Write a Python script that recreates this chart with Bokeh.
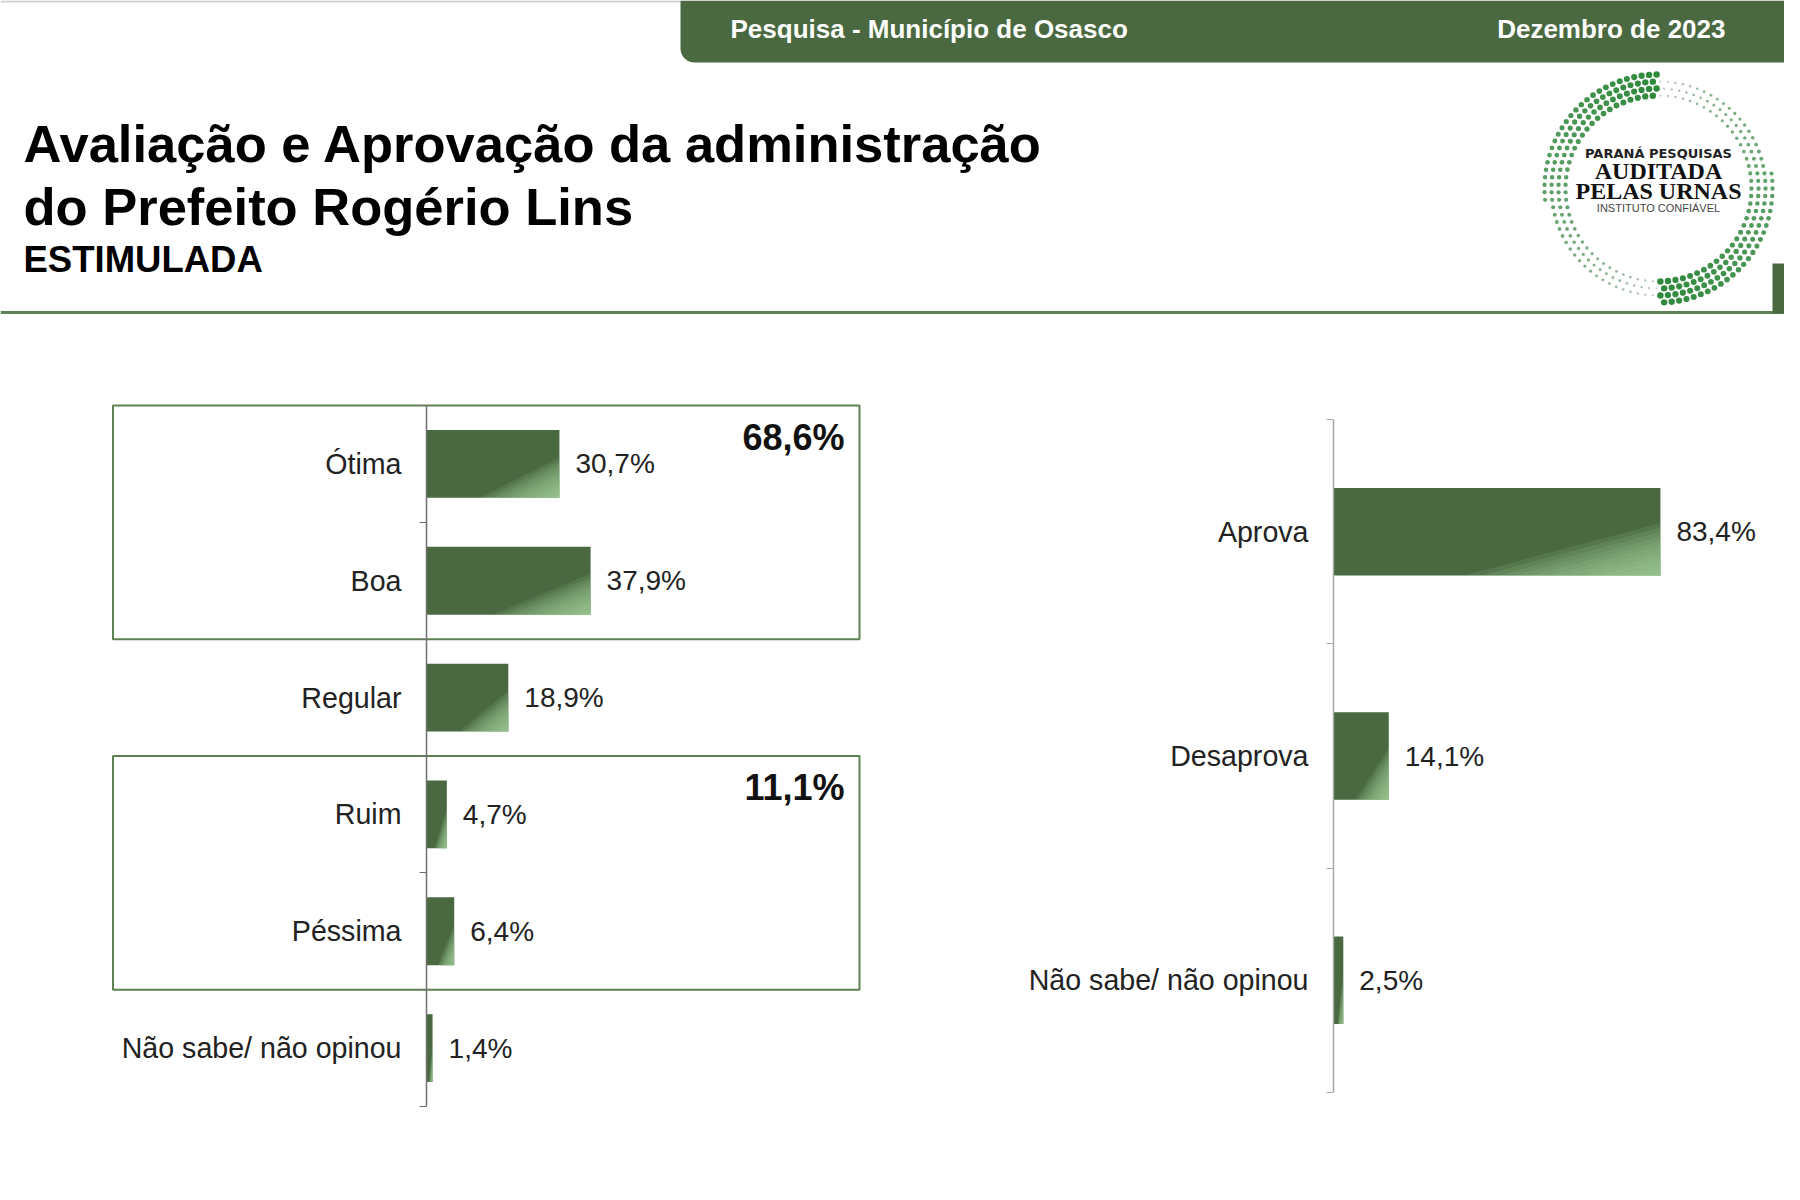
import numpy as np
from bokeh.plotting import figure
from bokeh.models import Range1d, LinearAxis, FixedTicker, Spacer
from bokeh.layouts import column, row
from bokeh.core.properties import value
from bokeh.embed import file_html
from bokeh.resources import INLINE

# ---------------- data ----------------
eval_categories = ["Ótima", "Boa", "Regular", "Ruim", "Péssima", "Não sabe/ não opinou"]
eval_values = [30.7, 37.9, 18.9, 4.7, 6.4, 1.4]
eval_groups = [[0, 1], [3, 4]]          # grouped categories (positive / negative)

appr_categories = ["Aprova", "Desaprova", "Não sabe/ não opinou"]
appr_values = [83.4, 14.1, 2.5]

header_left = "Pesquisa - Município de Osasco"
header_right = "Dezembro de 2023"
title_lines = ["Avaliação e Aprovação da administração", "do Prefeito Rogério Lins"]
subtitle = "ESTIMULADA"
logo_lines = ["PARANÁ PESQUISAS", "AUDITADA", "PELAS URNAS", "INSTITUTO CONFIÁVEL"]

# ---------------- style ----------------
FONT = "Liberation Sans"
DARK = "#4a6941"
LIGHT = "#aad7a4"
BOXC = "#5e8151"
TXT = "#222222"


def fmt(v):
    return f"{v:.1f}".replace(".", ",") + "%"


def bar_chart(cats, vals, width, height, px_per_unit, zero_px, top_px, band_px,
              bar_frac, axis_color, groups=None, box_left_px=0, box_right=100):
    n = len(cats)
    x0 = -zero_px / px_per_unit
    x1 = (width - zero_px) / px_per_unit
    y_top = -0.5 - top_px / band_px
    y_bot = n - 0.5 + (height - top_px - n * band_px) / band_px
    p = figure(width=width, height=height, x_range=Range1d(x0, x1),
               y_range=Range1d(y_bot, y_top), x_axis_type=None, y_axis_type=None,
               output_backend="svg", toolbar_location=None, min_border=0,
               outline_line_color=None, background_fill_color="white",
               border_fill_color="white")
    pos = list(range(n))
    ax = LinearAxis(fixed_location=0, bounds=(-0.5, n - 0.5),
                    ticker=FixedTicker(ticks=pos, minor_ticks=[i - 0.5 for i in range(n + 1)]),
                    major_label_overrides={i: c for i, c in enumerate(cats)},
                    major_tick_out=0, major_tick_in=0, major_tick_line_color=None,
                    minor_tick_out=7, minor_tick_in=0, minor_tick_line_color=axis_color,
                    axis_line_color=axis_color, axis_line_width=1.5,
                    major_label_standoff=18, major_label_text_font=FONT,
                    major_label_text_font_size="28.6px", major_label_text_color=TXT)
    p.add_layout(ax, "left")

    # group boxes
    if groups:
        for g in groups:
            top = min(g) - 0.5
            bot = max(g) + 0.5
            p.quad(left=x0 + box_left_px / px_per_unit, right=box_right, top=top, bottom=bot,
                   fill_color=None, line_color=BOXC, line_width=2)
            tot = sum(vals[i] for i in g)
            p.text(x=[box_right], y=[top + 0.27], text=[fmt(tot)], x_offset=-15,
                   text_align="right", text_baseline="middle", text_font=value(FONT),
                   text_font_style="bold", text_font_size="36px", text_color="#111111")

    # bars
    p.hbar(y=pos, left=0, right=vals, height=bar_frac, fill_color=DARK, line_color=None)
    # diagonal light gradient approximation in lower-right corner
    layers = np.linspace(0.70, 0.985, 12)
    for t in layers:
        xs, ys = [], []
        for v, c in zip(vals, pos):
            top = c - bar_frac / 2
            a = 2 * t - 1
            xs.append([v, v, a * v])
            ys.append([top + a * bar_frac, top + bar_frac, top + bar_frac])
        p.patches(xs=xs, ys=ys, fill_color=LIGHT, fill_alpha=0.13, line_color=None)

    p.text(x=vals, y=pos, text=[fmt(v) for v in vals], x_offset=16,
           text_align="left", text_baseline="middle", text_font=value(FONT),
           text_font_size="28px", text_color=TXT)
    return p


# ---------------- header ----------------
W = 1784
H_BOT = 398
header = figure(width=W, height=H_BOT, x_range=Range1d(0, W),
                y_range=Range1d(H_BOT, 0), x_axis_type=None, y_axis_type=None,
                output_backend="svg", toolbar_location=None, min_border=0,
                outline_line_color=None)
header.grid.visible = False

header.segment(x0=[0], y0=[1], x1=[680], y1=[1], line_color="#d0d0d0", line_width=2)

# banner with rounded bottom-left corner
r = 14
ang = np.linspace(np.pi, np.pi / 2, 12)
bx = [680, 680] + list(680 + r + r * np.cos(ang)) + [W, W]
by = [0, 62 - r] + list(62 - r + r * np.sin(ang)) + [62, 0]
header.patch(bx, by, fill_color=DARK, line_color=None)
header.text(x=[730], y=[28], text=[header_left], text_font=value(FONT), text_font_style="bold",
            text_font_size="26px", text_color="white", text_baseline="alphabetic")
header.text(x=[1725], y=[28], text=[header_right], text_font=value(FONT), text_font_style="bold",
            text_font_size="26px", text_color="white", text_align="right",
            text_baseline="alphabetic")

header.text(x=[23, 23], y=[143, 206], text=title_lines, text_font=value(FONT),
            text_font_style="bold", text_font_size="52.5px", text_color="black",
            text_baseline="alphabetic")
header.text(x=[23], y=[259], text=[subtitle], text_font=value(FONT), text_font_style="bold",
            text_font_size="36.5px", text_color="black", text_baseline="alphabetic")

header.segment(x0=[0], y0=[312], x1=[1786], y1=[312], line_color=BOXC, line_width=3)
header.quad(left=[1772], right=[W], top=[263], bottom=[313], fill_color=DARK, line_color=None)

# logo: ring of dots
cx, cy = 1658, 188
lx, ly, ls, lc = [], [], [], []
c_hi = np.array([0x2f, 0x8a, 0x3c])
c_lo = np.array([0xd6, 0xd6, 0xd6])
for k, rad in enumerate([93, 100, 107, 114]):
    m = int(2 * np.pi * rad / 7.5)
    for j in range(m):
        phi = 2 * np.pi * j / m
        deg = np.degrees(phi)
        t = 1 - ((deg - 90) % 180) / 180
        if k == 3 and t < 0.45:
            continue
        lx.append(cx + rad * np.cos(phi))
        ly.append(cy - rad * np.sin(phi))
        ls.append(2.2 + 4.3 * t)
        col = (c_lo + (c_hi - c_lo) * t ** 0.5).astype(int)
        lc.append("#%02x%02x%02x" % tuple(col))
header.scatter(x=lx, y=ly, size=ls, fill_color=lc, line_color=None)
header.text(x=[cx], y=[153], text=[logo_lines[0]], text_font=value("DejaVu Sans"),
            text_font_style="bold", text_font_size="13px", text_color="#222",
            text_align="center", text_baseline="middle")
header.text(x=[cx, cx], y=[170, 190], text=logo_lines[1:3], text_font=value("Liberation Serif"),
            text_font_style="bold", text_font_size="24px", text_color="#111",
            text_align="center", text_baseline="middle")
header.text(x=[cx], y=[207], text=[logo_lines[3]], text_font=value(FONT),
            text_font_size="11px", text_color="#444", text_align="center", text_baseline="middle")

# ---------------- charts ----------------
left = bar_chart(eval_categories, eval_values, width=780, height=757, px_per_unit=4.33,
                 zero_px=326, top_px=7, band_px=701 / 6, bar_frac=0.58,
                 axis_color="#6f6f6f", groups=eval_groups, box_left_px=12.5, box_right=100)
right = bar_chart(appr_categories, appr_values, width=784, height=757, px_per_unit=3.92,
                  zero_px=333, top_px=21, band_px=673 / 3, bar_frac=0.39,
                  axis_color="#a8a8a8")

layout = column(header, row(Spacer(width=100, height=757), left,
                            Spacer(width=120, height=757), right))

open("out.html", "w").write(file_html(layout, INLINE))
